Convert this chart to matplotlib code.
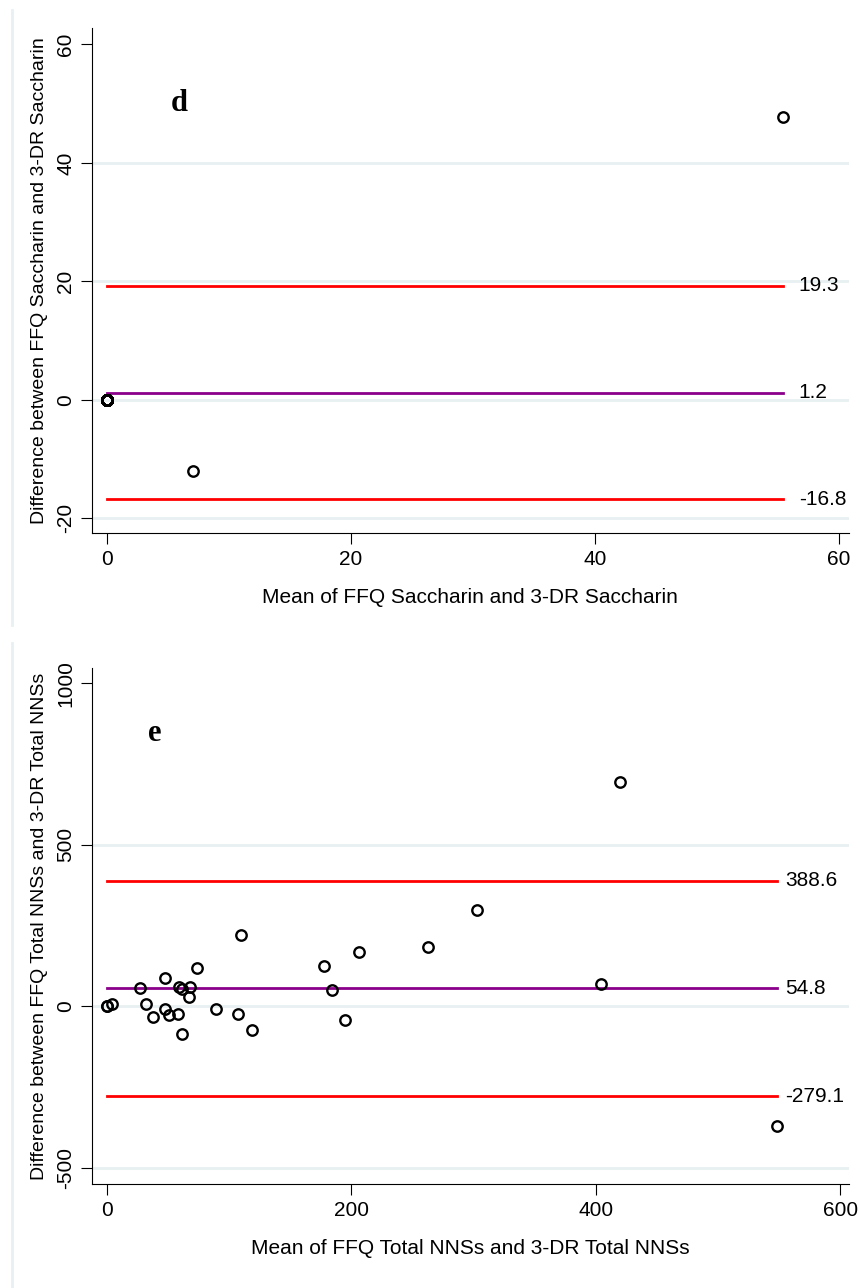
import numpy as np
import matplotlib
matplotlib.use("Agg")
import matplotlib.pyplot as plt
from matplotlib.lines import Line2D

plt.rcParams['font.family'] = ['Liberation Sans', 'DejaVu Sans']
plt.rcParams['axes.unicode_minus'] = False

# panel d: saccharin
sac_mean = [0.0] * 28 + [7.0, 55.4]
sac_diff = [0.0] * 28 + [-12.0, 47.8]
sac_limits = [19.3, 1.2, -16.8]
sac_yticks = [-20, 0, 20, 40, 60]
sac_xticks = [0, 20, 40, 60]

# panel e: total NNSs
nns_mean = [0, 0, 4, 27, 32, 38, 48, 48, 51, 58, 59, 62, 62, 67, 68, 74,
            89, 107, 110, 119, 178, 184, 195, 206, 263, 303, 404, 420, 548]
nns_diff = [0, 0, 8, 57, 6, -33, 88, -9, -28, -24, 58, 52, -85, 29, 60, 119,
            -9, -24, 221, -75, 123, 50, -43, 169, 184, 297, 68, 694, -370]
nns_limits = [388.6, 54.8, -279.1]
nns_yticks = [-500, 0, 500, 1000]
nns_xticks = [0, 200, 400, 600]

grid_col = '#e8f0f2'
line_cols = ['#ff0000', '#8b008b', '#ff0000']


def bland_altman(ax, xs, ys, limits, xticks, yticks, xlim, ylim, xlabel, ylabel,
                 letter, letter_pos, label_x):
    for t in yticks[:-1]:
        ax.axhline(t, color=grid_col, lw=2, zorder=0)
    for v, c in zip(limits, line_cols):
        ax.plot([min(xs), max(xs)], [v, v], color=c, lw=2, zorder=2)
        ax.text(label_x, v, '%.1f' % v, fontsize=15, va='center', ha='left')
    ax.plot(xs, ys, 'o', mfc='none', mec='black', ms=7.5, mew=1.7, zorder=3)
    ax.set_xlim(*xlim)
    ax.set_ylim(*ylim)
    ax.set_xticks(xticks)
    ax.set_yticks(yticks)
    ax.tick_params(axis='both', length=8, width=0.8, labelsize=15, pad=4)
    ax.tick_params(axis='y', labelrotation=90)
    for lab in ax.get_yticklabels():
        lab.set_va('center')
    ax.spines['top'].set_visible(False)
    ax.spines['right'].set_visible(False)
    ax.set_xlabel(xlabel, fontsize=15, labelpad=14)
    ax.set_ylabel(ylabel, fontsize=14, labelpad=6)
    ax.text(letter_pos[0], letter_pos[1], letter, family='Liberation Serif',
            fontweight='bold', fontsize=22, ha='center', va='center')


fig = plt.figure(figsize=(8.6, 12.88), dpi=100)
ax1 = fig.add_axes([0.107, 0.586, 0.880, 0.392])
ax2 = fig.add_axes([0.107, 0.0807, 0.880, 0.4003])

bland_altman(ax1, sac_mean, sac_diff, sac_limits, sac_xticks, sac_yticks,
             (-1.24, 60.8), (-22.5, 62.7),
             'Mean of FFQ Saccharin and 3-DR Saccharin',
             'Difference between FFQ Saccharin and 3-DR Saccharin',
             'd', (5.9, 50), 56.7)
bland_altman(ax2, nns_mean, nns_diff, nns_limits, nns_xticks, nns_yticks,
             (-12, 607), (-551, 1046),
             'Mean of FFQ Total NNSs and 3-DR Total NNSs',
             'Difference between FFQ Total NNSs and 3-DR Total NNSs',
             'e', (39, 845), 555)

# light panel borders on the left
fig.add_artist(Line2D([0.014, 0.014], [0.515, 0.992], color=grid_col, lw=2,
                      transform=fig.transFigure))
fig.add_artist(Line2D([0.014, 0.014], [0.0, 0.501], color=grid_col, lw=2,
                      transform=fig.transFigure))

fig.savefig('out.png', dpi=100)
